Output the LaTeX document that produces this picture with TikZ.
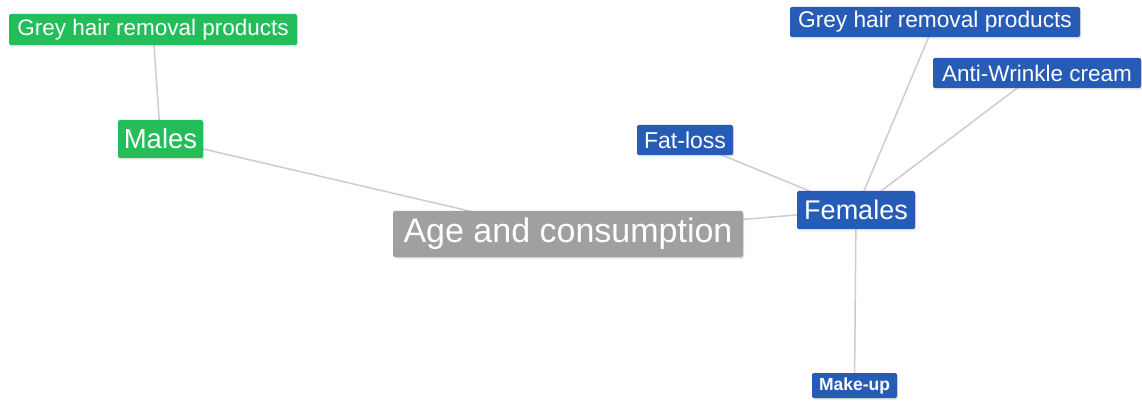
\documentclass[tikz,border=0pt]{standalone}
\usepackage{fontspec}
\setmainfont{Liberation Sans}
\usetikzlibrary{backgrounds,shadows}
\definecolor{mgreen}{RGB}{35,189,90}
\definecolor{mblue}{RGB}{38,91,182}
\definecolor{mgrey}{RGB}{160,160,160}
\definecolor{mline}{RGB}{205,205,205}
\tikzset{
  box/.style={rounded corners=2pt, text=white, inner sep=0pt, align=center,
    drop shadow={opacity=0.25, shadow xshift=1pt, shadow yshift=-1.5pt}},
  gbox/.style={box, fill=mgreen},
  bbox/.style={box, fill=mblue},
  cbox/.style={box, fill=mgrey},
  link/.style={draw=mline, line width=1.5pt},
}
\begin{document}
\begin{tikzpicture}[x=1pt,y=-1pt]
\useasboundingbox (0,0) rectangle (1142,403);
\node[gbox, minimum width=288pt, minimum height=31pt] (gm) at (153,29.5) {\fontsize{22.5}{24}\selectfont Grey hair removal products};
\node[gbox, minimum width=85pt, minimum height=38pt] (males) at (160.5,139) {\fontsize{27.5}{29}\selectfont Males};
\node[cbox, minimum width=350pt, minimum height=46pt] (age) at (568,234) {\fontsize{34}{36}\selectfont Age and consumption};
\node[bbox, minimum width=118pt, minimum height=38pt] (fem) at (856,210) {\fontsize{27}{29}\selectfont Females};
\node[bbox, minimum width=290pt, minimum height=30pt] (gf) at (935,22) {\fontsize{22.7}{24}\selectfont Grey hair removal products};
\node[bbox, minimum width=208pt, minimum height=30pt] (anti) at (1037,73) {\fontsize{22.5}{24}\selectfont Anti-Wrinkle cream};
\node[bbox, minimum width=96pt, minimum height=30pt] (fat) at (685,140) {\fontsize{23}{24}\selectfont Fat-loss};
\node[bbox, minimum width=85pt, minimum height=25pt] (make) at (854.5,385.5) {\fontsize{17.5}{19}\selectfont\bfseries Make-up};
\begin{scope}[on background layer]
\fill[white] (0,0) rectangle (1142,403);
\draw[link] (gm.center) -- (males.center);
\draw[link] (males.center) -- (age.center);
\draw[link] (age.center) -- (fem.center);
\draw[link] (fem.center) -- (fat.center);
\draw[link] (fem.center) -- (gf.center);
\draw[link] (fem.center) -- (anti.center);
\draw[link] (fem.center) -- (make.center);
\end{scope}
\end{tikzpicture}
\end{document}
